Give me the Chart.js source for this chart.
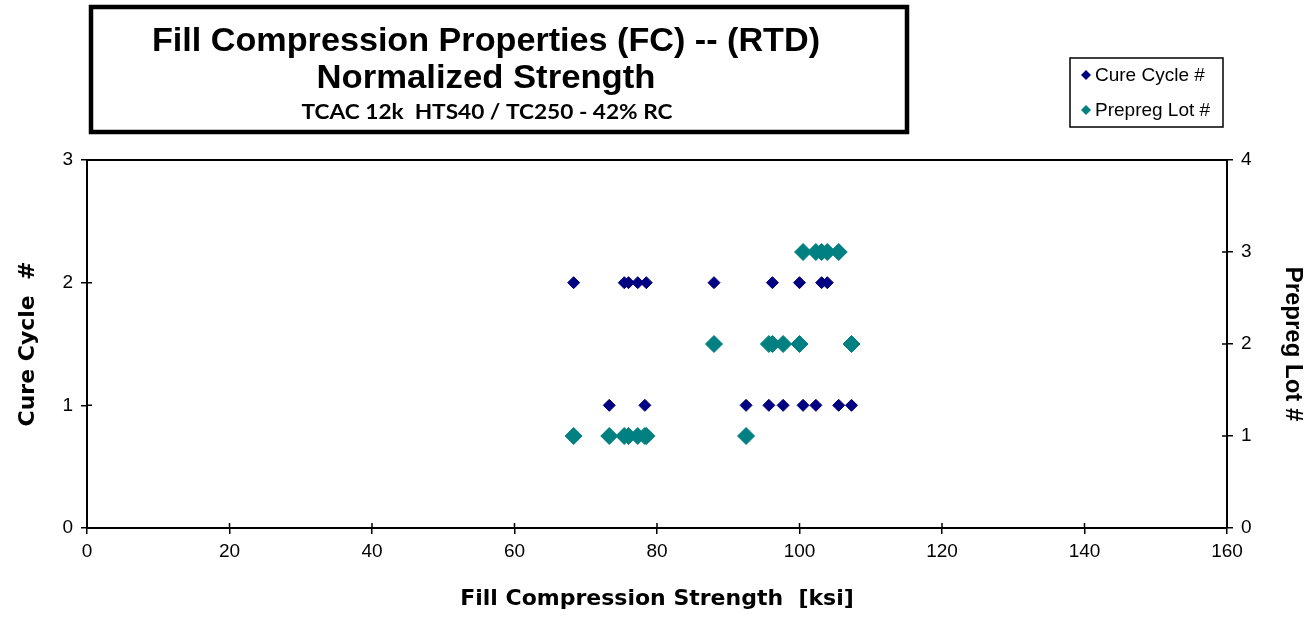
<!DOCTYPE html>
<html>
<head>
<meta charset="utf-8">
<script src="https://cdn.jsdelivr.net/npm/chart.js@4/dist/chart.umd.min.js"></script>
<style>
  html, body { margin: 0; padding: 0; background: #fff; }
  canvas { display: block; }
</style>
</head>
<body>
<canvas id="c" width="1310" height="619"></canvas>
<script>
// ---- Data ----
const titleLines = ['Fill Compression Properties (FC) -- (RTD)', 'Normalized Strength', 'TCAC 12k  HTS40 / TC250 - 42% RC'];
const seriesNames = ['Cure Cycle #', 'Prepreg Lot #'];
const strength   = [68.3, 73.3, 75.4, 76.0, 77.3, 78.3, 78.5, 88.0, 92.5, 95.7, 96.2, 97.7, 100.0, 100.5, 102.3, 103.1, 103.9, 105.5, 107.3];
const cureCycle  = [2,    1,    2,    2,    2,    1,    2,    2,    1,    1,    2,    1,    2,     1,     1,     2,     2,     1,     1];
const prepregLot = [1,    1,    1,    1,    1,    1,    1,    2,    1,    2,    2,    2,    2,     3,     3,     3,     3,     3,     2];
const xTicks = { min: 0, max: 160, step: 20 };
const yTicks = { min: 0, max: 3, step: 1 };
const y2Ticks = { min: 0, max: 4, step: 1 };
const axisTitles = { x: 'Fill Compression Strength  [ksi]', y: 'Cure Cycle  #', y2: 'Prepreg Lot #' };

const NAVY = '#000080';
const TEAL = '#008080';

function fitText(ctx, text, cx, y, font, width) {
  ctx.font = font;
  const w = ctx.measureText(text).width;
  ctx.save();
  ctx.translate(cx, y);
  ctx.scale(width / w, 1);
  ctx.textAlign = 'center';
  ctx.textBaseline = 'alphabetic';
  ctx.fillStyle = '#000';
  ctx.fillText(text, 0, 0);
  ctx.restore();
}

function diamond(ctx, x, y, r, color) {
  ctx.beginPath();
  ctx.moveTo(x, y - r); ctx.lineTo(x + r, y); ctx.lineTo(x, y + r); ctx.lineTo(x - r, y); ctx.closePath();
  ctx.fillStyle = color; ctx.fill();
}

const chrome = {
  id: 'chrome',
  afterDraw(chart) {
    const ctx = chart.ctx, a = chart.chartArea;
    ctx.save();
    // top border of plot area
    ctx.strokeStyle = '#000'; ctx.lineWidth = 2;
    ctx.beginPath(); ctx.moveTo(a.left, a.top); ctx.lineTo(a.right, a.top); ctx.stroke();
    // inner halves of the tick marks
    ctx.lineWidth = 1.5;
    const sx = chart.scales.x, sy = chart.scales.y, sy2 = chart.scales.y2;
    ctx.beginPath();
    sx.ticks.forEach(t => { const p = sx.getPixelForValue(t.value); ctx.moveTo(p, a.bottom); ctx.lineTo(p, a.bottom - 5); });
    sy.ticks.forEach(t => { const p = sy.getPixelForValue(t.value); ctx.moveTo(a.left, p); ctx.lineTo(a.left + 5, p); });
    sy2.ticks.forEach(t => { const p = sy2.getPixelForValue(t.value); ctx.moveTo(a.right, p); ctx.lineTo(a.right - 5, p); });
    ctx.stroke();

    // title box
    ctx.lineWidth = 4.5; ctx.strokeStyle = '#000';
    ctx.strokeRect(91, 7, 816, 125);
    fitText(ctx, titleLines[0], 486, 51, 'bold 34px "Liberation Sans"', 668);
    fitText(ctx, titleLines[1], 486, 88, 'bold 34px "Liberation Sans"', 339);
    fitText(ctx, titleLines[2], 487, 119, 'bold 21px Lato', 371);

    // legend
    ctx.lineWidth = 1.5;
    ctx.strokeRect(1070, 58, 153, 69);
    const colors = [NAVY, TEAL];
    ctx.font = '19px "Liberation Sans"';
    ctx.textAlign = 'left'; ctx.textBaseline = 'middle';
    seriesNames.forEach((n, i) => {
      const yy = 75 + i * 35;
      diamond(ctx, 1086, yy, 5, colors[i]);
      ctx.fillStyle = '#000';
      ctx.fillText(n, 1095, yy + 1);
    });
    ctx.restore();
  }
};

const tickFont = { family: 'Liberation Sans', size: 19 };

new Chart(document.getElementById('c'), {
  type: 'scatter',
  data: {
    datasets: [
      {
        label: seriesNames[0],
        data: strength.map((x, i) => ({ x, y: cureCycle[i] })),
        yAxisID: 'y',
        backgroundColor: NAVY, borderColor: NAVY, borderWidth: 1,
        pointStyle: 'rectRot', pointRadius: 6
      },
      {
        label: seriesNames[1],
        data: strength.map((x, i) => ({ x, y: prepregLot[i] })),
        yAxisID: 'y2',
        backgroundColor: TEAL, borderColor: TEAL, borderWidth: 1,
        pointStyle: 'rectRot', pointRadius: 8.5
      }
    ]
  },
  options: {
    responsive: false,
    devicePixelRatio: 1,
    animation: false,
    events: [],
    layout: { padding: { top: 160, left: 0, right: 0, bottom: 0 } },
    plugins: { legend: { display: false }, tooltip: { enabled: false }, title: { display: false } },
    scales: {
      x: {
        type: 'linear', position: 'bottom',
        min: xTicks.min, max: xTicks.max,
        ticks: { stepSize: xTicks.step, font: tickFont, color: '#000', padding: 6, maxRotation: 0 },
        grid: { drawOnChartArea: false, tickLength: 6, color: '#000', lineWidth: 1.5 },
        border: { color: '#000', width: 2 },
        title: { display: true, text: axisTitles.x, font: { family: 'DejaVu Sans', weight: 'bold', size: 22 }, color: '#000', padding: { top: 0, bottom: 7 } },
        afterFit(s) { s.height = 91; }
      },
      y: {
        type: 'linear', position: 'left',
        min: yTicks.min, max: yTicks.max,
        ticks: { stepSize: yTicks.step, font: tickFont, color: '#000', padding: 8 },
        grid: { drawOnChartArea: false, tickLength: 6, color: '#000', lineWidth: 1.5 },
        border: { color: '#000', width: 2 },
        title: { display: true, text: axisTitles.y, font: { family: 'DejaVu Sans', weight: 'bold', size: 22 }, color: '#000', padding: { top: 15, bottom: 0 } },
        afterFit(s) { s.width = 87; }
      },
      y2: {
        type: 'linear', position: 'right',
        min: y2Ticks.min, max: y2Ticks.max,
        ticks: { stepSize: y2Ticks.step, font: tickFont, color: '#000', padding: 8 },
        grid: { drawOnChartArea: false, tickLength: 6, color: '#000', lineWidth: 1.5 },
        border: { color: '#000', width: 2 },
        title: { display: true, text: axisTitles.y2, font: { family: 'Liberation Sans', weight: 'bold', size: 24 }, color: '#000', padding: { top: 3, bottom: 0 } },
        afterFit(s) { s.width = 83; }
      }
    }
  },
  plugins: [chrome]
});
</script>
</body>
</html>
